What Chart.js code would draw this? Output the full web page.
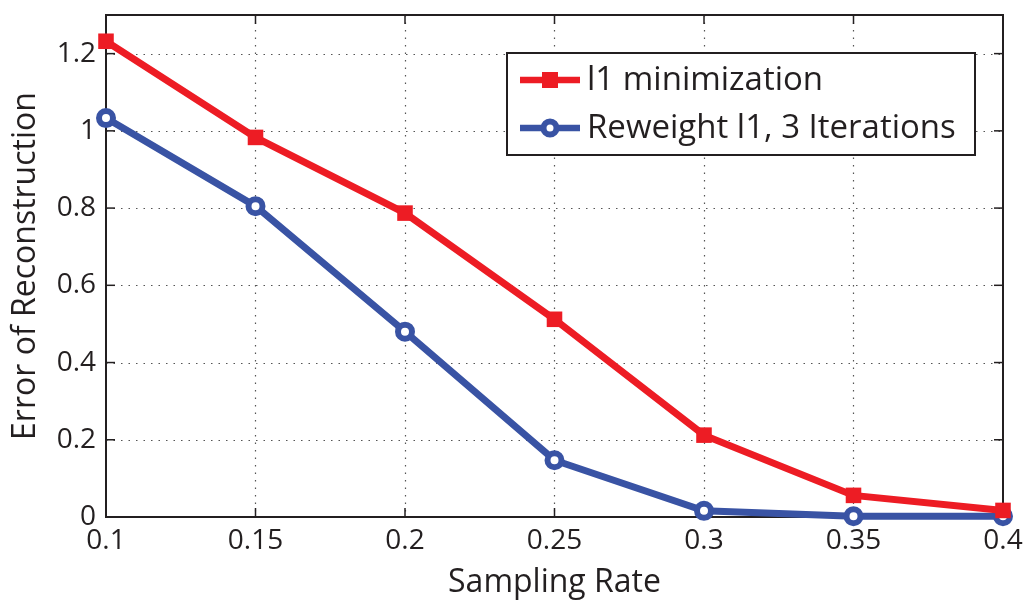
<!DOCTYPE html>
<html>
<head>
<meta charset="utf-8">
<script src="https://cdn.jsdelivr.net/npm/chart.js@4.4.0/dist/chart.umd.min.js"></script>
<style>
  html, body { margin: 0; padding: 0; background: #fff; }
  #wrap { width: 1025px; height: 602px; }
</style>
</head>
<body>
<div id="wrap"><canvas id="myChart" width="1025" height="602"></canvas></div>
<script>
var rates = [0.1, 0.15, 0.2, 0.25, 0.3, 0.35, 0.4];
var l1_err = [1.232, 0.983, 0.787, 0.512, 0.212, 0.056, 0.017];
var rw_err = [1.033, 0.805, 0.48, 0.147, 0.016, 0.002, 0.002];
var x_ticks = [0.1, 0.15, 0.2, 0.25, 0.3, 0.35, 0.4];
var y_ticks = [0, 0.2, 0.4, 0.6, 0.8, 1, 1.2];
var series_names = ["l1 minimization", "Reweight l1, 3 Iterations"];

var FONT = "'Open Sans', 'Noto Sans', sans-serif";
var RED = '#ED1C24';
var BLUE = '#3953A4';
var INK = '#231F20';

function pts(ys) {
	var out = [];
	for (var i = 0; i < rates.length; i++) out.push({x: rates[i], y: ys[i]});
	return out;
}

// grid, box, inward ticks and legend, MATLAB style
var frame = {
	id: 'frame',
	beforeDatasetsDraw: function(chart) {
		var c = chart.ctx, a = chart.chartArea;
		var xs = chart.scales.x, ys = chart.scales.y;
		c.save();
		c.strokeStyle = '#555';
		c.lineWidth = 1.2;
		c.setLineDash([1.5, 6]);
		x_ticks.forEach(function(v) {
			var px = Math.round(xs.getPixelForValue(v)) + 0.5;
			if (px <= a.left + 1 || px >= a.right - 1) return;
			c.beginPath(); c.moveTo(px, a.top); c.lineTo(px, a.bottom); c.stroke();
		});
		y_ticks.forEach(function(v) {
			var py = Math.round(ys.getPixelForValue(v)) + 0.5;
			if (py >= a.bottom - 1) return;
			c.beginPath(); c.moveTo(a.left, py); c.lineTo(a.right, py); c.stroke();
		});
		c.setLineDash([]);
		c.strokeStyle = INK;
		c.lineWidth = 1.5;
		var tl = 9;
		x_ticks.forEach(function(v) {
			var px = xs.getPixelForValue(v);
			c.beginPath(); c.moveTo(px, a.bottom); c.lineTo(px, a.bottom - tl); c.stroke();
			c.beginPath(); c.moveTo(px, a.top); c.lineTo(px, a.top + tl); c.stroke();
		});
		y_ticks.forEach(function(v) {
			var py = ys.getPixelForValue(v);
			c.beginPath(); c.moveTo(a.left, py); c.lineTo(a.left + tl, py); c.stroke();
			c.beginPath(); c.moveTo(a.right, py); c.lineTo(a.right - tl, py); c.stroke();
		});
		c.lineWidth = 2;
		c.strokeRect(a.left, a.top, a.right - a.left, a.bottom - a.top);
		c.restore();
	},
	afterDatasetsDraw: function(chart) {
		var c = chart.ctx;
		var bx = 507, by = 53, bw = 468, bh = 102;
		c.save();
		c.fillStyle = '#fff';
		c.fillRect(bx, by, bw, bh);
		c.strokeStyle = INK;
		c.lineWidth = 2;
		c.strokeRect(bx, by, bw, bh);
		c.font = '33px ' + FONT;
		c.textBaseline = 'middle';
		var rows = [by + 27, by + 75];
		chart.data.datasets.forEach(function(ds, i) {
			var yy = rows[i];
			c.strokeStyle = ds.borderColor;
			c.lineWidth = 6.5;
			c.beginPath(); c.moveTo(520, yy); c.lineTo(580, yy); c.stroke();
			if (i == 0) {
				c.fillStyle = ds.borderColor;
				c.fillRect(542, yy - 8, 16, 16);
			} else {
				c.fillStyle = '#fff';
				c.lineWidth = 6;
				c.beginPath(); c.arc(550, yy, 6.5, 0, Math.PI * 2); c.fill(); c.stroke();
			}
			c.fillStyle = INK;
			c.fillText(series_names[i], 587, yy + 1);
		});
		c.restore();
	}
};

window.onload = function() {
	var ctx = document.getElementById('myChart').getContext('2d');
	var chart = new Chart(ctx, {
		type: 'line',
		data: {
			datasets: [{
				label: series_names[0],
				data: pts(l1_err),
				borderColor: RED,
				backgroundColor: RED,
				borderWidth: 7,
				pointStyle: 'rect',
				pointRadius: 11,
				pointBorderWidth: 0,
				pointBackgroundColor: RED,
				clip: false
			}, {
				label: series_names[1],
				data: pts(rw_err),
				borderColor: BLUE,
				backgroundColor: BLUE,
				borderWidth: 7,
				pointStyle: 'circle',
				pointRadius: 7,
				pointBorderWidth: 6,
				pointBackgroundColor: '#fff',
				clip: false
			}]
		},
		options: {
			responsive: false,
			animation: false,
			layout: { padding: { top: 15, right: 22, left: 0, bottom: 0 } },
			plugins: { legend: { display: false }, tooltip: { enabled: false } },
			scales: {
				x: {
					type: 'linear',
					min: 0.1, max: 0.4,
					afterBuildTicks: function(s) { s.ticks = x_ticks.map(function(v) { return {value: v}; }); },
					afterFit: function(s) { s.height = 85; s.paddingLeft = 0; s.paddingRight = 0; },
					grid: { display: false, drawTicks: false },
					border: { display: false },
					ticks: {
						color: INK, padding: 10,
						font: { family: FONT, size: 28, lineHeight: 1 },
						callback: function(v) { return String(v); }
					},
					title: {
						display: true, text: 'Sampling Rate', color: INK,
						font: { family: FONT, size: 32, lineHeight: 1.1 }, padding: { top: 0, bottom: 2 }
					}
				},
				y: {
					min: 0, max: 1.3,
					afterBuildTicks: function(s) { s.ticks = y_ticks.map(function(v) { return {value: v}; }); },
					afterFit: function(s) { s.width = 106; s.paddingTop = 0; s.paddingBottom = 0; },
					grid: { display: false, drawTicks: false },
					border: { display: false },
					ticks: {
						color: INK, padding: 10,
						font: { family: FONT, size: 28, lineHeight: 1 },
						callback: function(v) { return String(v); }
					},
					title: {
						display: true, text: 'Error of Reconstruction', color: INK,
						font: { family: FONT, size: 32, lineHeight: 1.1 }, padding: { top: 8, bottom: 0 }
					}
				}
			}
		},
		plugins: [frame]
	});
};
</script>
</body>
</html>
